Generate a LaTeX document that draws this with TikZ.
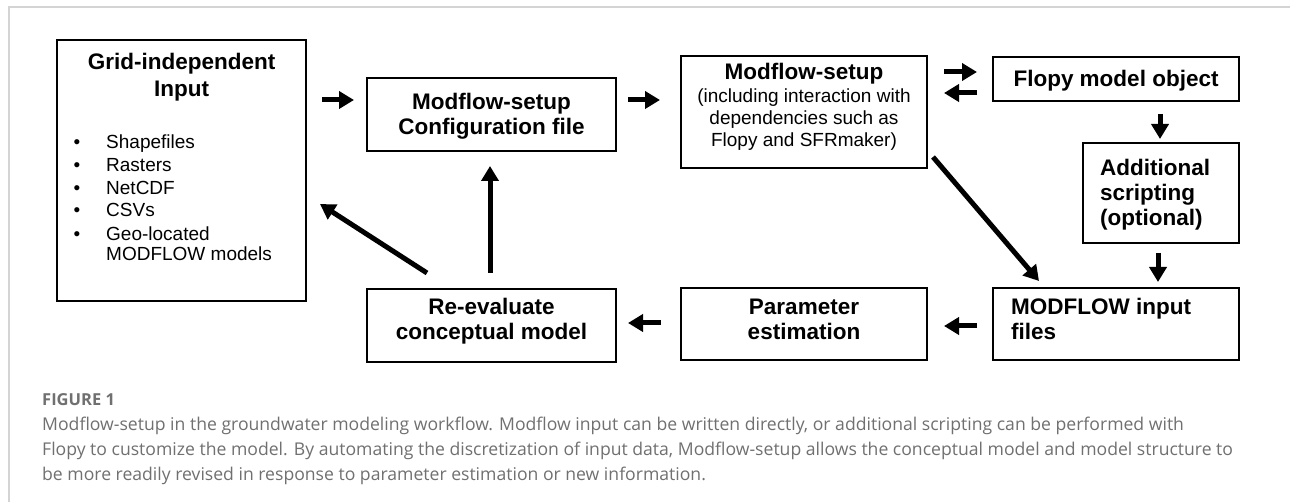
\documentclass[tikz,border=0pt]{standalone}
\usepackage{fontspec}
\setmainfont{Liberation Sans}
\newfontfamily\capfont{Open Sans}
\usetikzlibrary{arrows.meta}
\definecolor{framegray}{HTML}{D4D4D4}
\definecolor{capgray}{HTML}{707070}
\tikzset{
  box/.style={draw=black, line width=1.3pt, inner sep=0pt},
  btxt/.style={font=\fontsize{22.5}{26}\selectfont\bfseries, inner sep=0pt, anchor=base},
  rtxt/.style={font=\fontsize{19}{22}\selectfont, inner sep=0pt, anchor=base},
  flow/.style={line width=5pt, -{Triangle[length=15pt,width=17pt]}},
  captxt/.style={font=\capfont\fontsize{17.6}{20}\selectfont, text=capgray, inner sep=0pt, anchor=base west},
}
\begin{document}
\begin{tikzpicture}[x=1pt,y=-1pt]
\useasboundingbox (0,0) rectangle (1290,502);
\fill[white] (0,0) rectangle (1290,502);
% frame
\draw[framegray, line width=1.5pt] (9,502) -- (9,7) -- (1290,7);

% boxes
\node[box, minimum width=249pt, minimum height=261pt] (grid) at (181.5,170.5) {};
\node[box, minimum width=249pt, minimum height=73pt] (conf) at (491.5,114.5) {};
\node[box, minimum width=246pt, minimum height=112pt] (mset) at (804,112) {};
\node[box, minimum width=246pt, minimum height=44pt] (flopy) at (1116,79) {};
\node[box, minimum width=156pt, minimum height=100pt] (addl) at (1161,193) {};
\node[box, minimum width=246pt, minimum height=72pt] (mfin) at (1116,324) {};
\node[box, minimum width=246pt, minimum height=72pt] (pest) at (804,324) {};
\node[box, minimum width=249pt, minimum height=73pt] (reev) at (491.5,325.5) {};

% texts
\node[btxt] (g1) at (181.5,70) {Grid-independent};
\node[btxt] (g2) at (181.5,97) {Input};
\foreach \i/\t/\yy in {1/Shapefiles/149, 2/Rasters/172, 3/NetCDF/195, 4/CSVs/217, 5/Geo-located/241} {
  \node[rtxt, anchor=base] (gb\i) at (77,\yy) {\textbullet};
  \node[rtxt, anchor=base west] (gt\i) at (106,\yy) {\t};
}
\node[rtxt, anchor=base west] (gt6) at (106,261) {MODFLOW models};

\node[btxt] (c1) at (491.5,110) {Modflow-setup};
\node[btxt] (c2) at (491.5,135) {Configuration file};

\node[btxt] (m1) at (804,80) {Modflow-setup};
\node[rtxt] (m2) at (804,103) {(including interaction with};
\node[rtxt] (m3) at (804,125) {dependencies such as};
\node[rtxt] (m4) at (804,147) {Flopy and SFRmaker)};

\node[btxt] (f1) at (1116,87) {Flopy model object};

\node[btxt, anchor=base west] (a1) at (1100,176) {Additional};
\node[btxt, anchor=base west] (a2) at (1100,201) {scripting};
\node[btxt, anchor=base west] (a3) at (1100,226) {(optional)};

\node[btxt, anchor=base west] (mi1) at (1011,315) {MODFLOW input};
\node[btxt, anchor=base west] (mi2) at (1011,340) {files};

\node[btxt] (p1) at (804,315) {Parameter};
\node[btxt] (p2) at (804,340) {estimation};

\node[btxt] (r1) at (491.5,315) {Re-evaluate};
\node[btxt] (r2) at (491.5,340) {conceptual model};

% arrow anchor coordinates
\coordinate (a-gc1) at (322,100); \coordinate (a-gc2) at (354,100);
\coordinate (a-cm1) at (628,100); \coordinate (a-cm2) at (660,100);
\coordinate (a-mf1) at (944,72);  \coordinate (a-mf2) at (977,72);
\coordinate (a-fm1) at (977,93);  \coordinate (a-fm2) at (944,93);
\coordinate (a-fa1) at (1160,114); \coordinate (a-fa2) at (1160,139);
\coordinate (a-am1) at (1158,253); \coordinate (a-am2) at (1158,282);
\coordinate (a-mm1) at (933,157); \coordinate (a-mm2) at (1039,281);
\coordinate (a-mp1) at (977,326); \coordinate (a-mp2) at (944,326);
\coordinate (a-pr1) at (661,323); \coordinate (a-pr2) at (628,323);
\coordinate (a-rc1) at (490,273); \coordinate (a-rc2) at (490,166);
\coordinate (a-rg1) at (427,273); \coordinate (a-rg2) at (320,204);

\draw[flow] (a-gc1) -- (a-gc2);
\draw[flow] (a-cm1) -- (a-cm2);
\draw[flow] (a-mf1) -- (a-mf2);
\draw[flow] (a-fm1) -- (a-fm2);
\draw[flow] (a-fa1) -- (a-fa2);
\draw[flow] (a-am1) -- (a-am2);
\draw[flow] (a-mm1) -- (a-mm2);
\draw[flow] (a-mp1) -- (a-mp2);
\draw[flow] (a-pr1) -- (a-pr2);
\draw[flow] (a-rc1) -- (a-rc2);
\draw[flow] (a-rg1) -- (a-rg2);

% caption
\node[captxt, font=\capfont\bfseries\fontsize{16.5}{20}\selectfont] (cap0) at (42,405) {FIGURE 1};
\node[captxt] (cap1) at (42,430) {Modflow-setup in the groundwater modeling workflow. Modflow input can be written directly, or additional scripting can be performed with};
\node[captxt] (cap2) at (42,455) {Flopy to customize the model. By automating the discretization of input data, Modflow-setup allows the conceptual model and model structure to};
\node[captxt] (cap3) at (42,480) {be more readily revised in response to parameter estimation or new information.};
\end{tikzpicture}
\end{document}
